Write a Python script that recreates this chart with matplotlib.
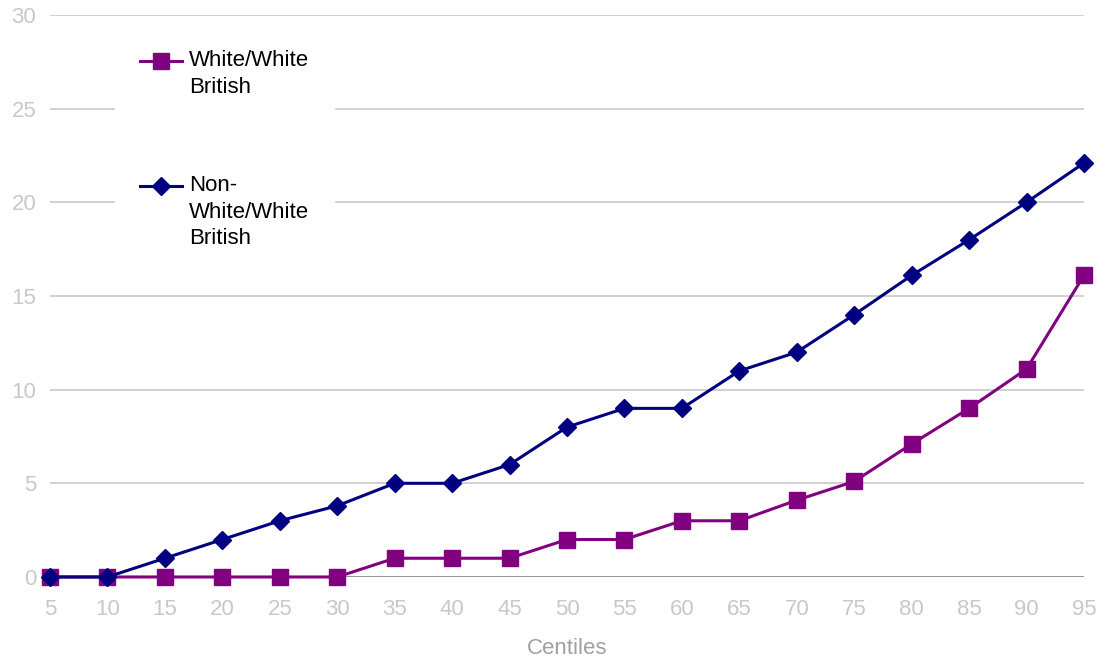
import numpy as np
import matplotlib.pyplot as plt
from matplotlib.legend_handler import HandlerLine2D

plt.rcParams['font.family'] = ['Liberation Sans', 'DejaVu Sans']

centiles = [5, 10, 15, 20, 25, 30, 35, 40, 45, 50, 55, 60, 65, 70, 75, 80, 85, 90, 95]
white_british = [0, 0, 0, 0, 0, 0, 1, 1, 1, 2, 2, 3, 3, 4.1, 5.1, 7.1, 9, 11.1, 16.1]
non_white = [0, 0, 1, 2, 3, 3.8, 5, 5, 6, 8, 9, 9, 11, 12, 14, 16.1, 18, 20, 22.1]
yticks = [0, 5, 10, 15, 20, 25, 30]

FS = 16
LINESP = 1.35
LINE_PT = 27 / 100 * 72  # distance between wrapped lines, in points


class TopHandler(HandlerLine2D):
    """Put the legend sample level with the first line of a wrapped label"""
    def __init__(self, nlines, **kw):
        super().__init__(**kw)
        self.nlines = nlines

    def create_artists(self, legend, orig_handle, xdescent, ydescent,
                       width, height, fontsize, trans):
        arts = super().create_artists(legend, orig_handle, xdescent, ydescent,
                                      width, height, fontsize, trans)
        shift = (self.nlines - 1) / 2 * LINE_PT
        for a in arts:
            a.set_ydata(np.asarray(a.get_ydata(), dtype=float) + shift)
        return arts


fig = plt.figure(figsize=(11.07, 6.6), dpi=100)
ax = fig.add_axes([0.0452, 0.1258, 0.934, 0.8515])

l1, = ax.plot(centiles, white_british, color='#800080', lw=2.2, marker='s',
              ms=11, clip_on=False, zorder=3)
l2, = ax.plot(centiles, non_white, color='#000080', lw=2.2, marker='D',
              ms=9, clip_on=False, zorder=4)

ax.set_xlim(5, 95)
ax.set_ylim(0, 30)
ax.set_xticks(centiles)
ax.set_yticks(yticks)
ax.grid(axis='y', color='#c8c8c8', lw=1.2)
ax.axhline(0, color='#8c8c8c', lw=1.2, zorder=1)
ax.set_axisbelow(True)
for s in ax.spines.values():
    s.set_visible(False)
ax.tick_params(axis='both', length=0, labelsize=FS, colors='#c8c8c8')
ax.tick_params(axis='x', pad=16)
ax.tick_params(axis='y', pad=10)
ax.set_xlabel('Centiles', fontsize=FS, color='#a0a0a0', labelpad=13)

leg = ax.legend([l1, l2], ['White/White\nBritish', 'Non-\nWhite/White\nBritish'],
                handler_map={l1: TopHandler(2), l2: TopHandler(3)},
                loc='upper left', bbox_to_anchor=(0.063, 0.981),
                fontsize=FS, frameon=True, facecolor='white', edgecolor='white',
                framealpha=1, fancybox=False, borderpad=1.1, labelspacing=3.49,
                handlelength=1.9, handletextpad=0.32, borderaxespad=0)
for t in leg.get_texts():
    t.set_linespacing(LINESP)

fig.savefig('out.png', dpi=100)
